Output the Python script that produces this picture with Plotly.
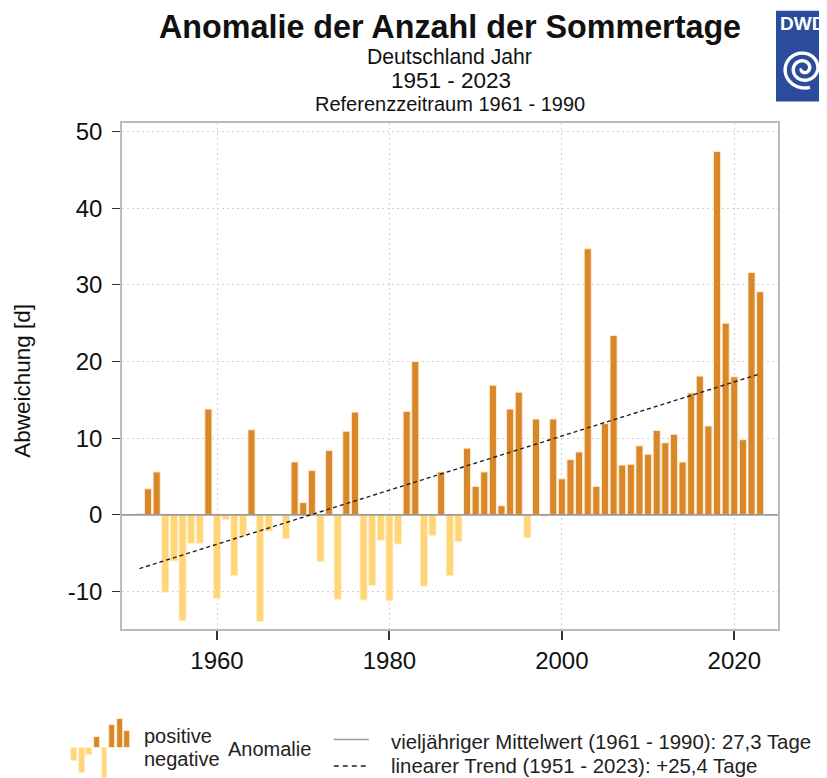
import numpy as np
import plotly.graph_objects as go

# ---------------- data ----------------
years = list(range(1951, 2024))
anomaly = [
    0.2, 3.4, 5.6, -10.1, -6.0, -13.8, -3.7, -3.7, 13.8, -10.9,   # 1951-1960
    -0.6, -7.9, -2.7, 11.1, -13.9, -2.1, 0.0, -3.1, 6.9, 1.6,     # 1961-1970
    5.8, -6.1, 8.4, -11.0, 10.9, 13.4, -11.1, -9.2, -3.3, -11.2,  # 1971-1980
    -3.8, 13.5, 20.0, -9.3, -2.7, 5.6, -7.9, -3.5, 8.7, 3.7,      # 1981-1990
    5.6, 16.9, 1.2, 13.8, 16.0, -3.0, 12.5, -0.2, 12.5, 4.7,      # 1991-2000
    7.2, 8.2, 34.7, 3.7, 11.9, 23.4, 6.5, 6.6, 9.0, 7.9,          # 2001-2010
    11.0, 9.4, 10.5, 6.9, 15.9, 18.1, 11.6, 47.4, 25.0, 18.0,     # 2011-2020
    9.8, 31.6, 29.1,                                              # 2021-2023
]
trend_years = [1951, 2023]
trend_values = [-7.0, 18.4]
x_range = [1948.98, 2025.07]
y_range = [-14.88, 51.1]
mean_values = [0, 0]

x_ticks = [1960, 1980, 2000, 2020]
y_ticks = [-10, 0, 10, 20, 30, 40, 50]
y_tick_labels = ["-10", "0", "10", "20", "30", "40", "50"]

title = "Anomalie der Anzahl der Sommertage"
sub1 = "Deutschland Jahr"
sub2 = "1951 - 2023"
sub3 = "Referenzzeitraum 1961 - 1990"
y_title = "Abweichung [d]"
leg_pos = "positive"
leg_neg = "negative"
leg_anom = "Anomalie"
leg_mean = "vieljähriger Mittelwert (1961 - 1990): 27,3 Tage"
leg_trend = "linearer Trend (1951 - 2023): +25,4 Tage"

POS = "#d8872a"
NEG = "#ffd675"
EDGE = "rgba(255,236,205,0.95)"
FONT = "Liberation Sans, Arial, sans-serif"

# ---------------- layout geometry ----------------
# the page body has an 8px margin, so figure pixels = window pixels - 8
OFF = 8
W, H = 827 - OFF, 778 - OFF
PL, PR, PT, PB = 122.3, 778.0, 122.5, 629.3   # plot area in window pixels
L, T = PL - OFF, PT - OFF
R, B = W - (PR - OFF), H - (PB - OFF)
PW, PH = PR - PL, PB - PT


def px(x):
    return (x - PL) / PW


def py(y):
    return (PB - y) / PH


fig = go.Figure()

colors = [POS if v >= 0 else NEG for v in anomaly]
fig.add_trace(go.Bar(
    x=years, y=anomaly, marker=dict(color=colors, line=dict(color=EDGE, width=1)),
    width=0.82, showlegend=False, hoverinfo="x+y"))

fig.add_trace(go.Scatter(x=x_range, y=mean_values, mode="lines",
                         line=dict(color="#9a9a9a", width=1.6), showlegend=False))
fig.add_trace(go.Scatter(x=trend_years, y=trend_values, mode="lines",
                         line=dict(color="#222222", width=1.4, dash="4px,3px"), showlegend=False))

shapes = []
annotations = []


def ann(text, x, y, size, bold=False, xanchor="center", color="#111", angle=0, pad=1):
    annotations.append(dict(
        text=f"<b>{text}</b>" if bold else text, x=px(x), y=py(y), xref="paper", yref="paper",
        xanchor=xanchor, yanchor="middle", showarrow=False, textangle=angle, borderpad=pad,
        font=dict(family=FONT, size=size, color=color)))


ann(title, 450, 26, 32.3, bold=True, pad=0)
ann(sub1, 450, 55.6, 21.2, pad=0)
ann(sub2, 451, 79.8, 22.5, pad=0)
ann(sub3, 450, 103.6, 20, pad=0)
ann(y_title, 22, 381, 22.5, angle=-90)

# legend
legend_bars = [  # (x0, x1, y0, y1, color) in window pixels
    (71, 77, 748, 761, NEG), (79, 85, 748, 773, NEG), (86, 92, 748, 755, NEG),
    (94, 100, 737, 748, POS), (102, 107, 748, 778, NEG), (109, 115, 725, 748, POS),
    (117, 123, 719, 748, POS), (124, 130, 731, 748, POS),
]
for x0, x1, y0, y1, c in legend_bars:
    shapes.append(dict(type="rect", xref="paper", yref="paper", x0=px(x0), x1=px(x1), y0=py(y0), y1=py(y1),
                       fillcolor=c, line=dict(color=EDGE, width=1)))
ann(leg_pos, 142, 736, 20, xanchor="left", color="#222")
ann(leg_neg, 142, 760, 20, xanchor="left", color="#222")
ann(leg_anom, 226, 749, 20, xanchor="left", color="#222")
shapes.append(dict(type="line", xref="paper", yref="paper", x0=px(334), x1=px(369), y0=py(740), y1=py(740),
                   line=dict(color="#9a9a9a", width=1.6)))
shapes.append(dict(type="line", xref="paper", yref="paper", x0=px(334), x1=px(368), y0=py(766.5), y1=py(766.5),
                   line=dict(color="#222", width=1.4, dash="5px,4px")))
ann(leg_mean, 389, 742, 20.4, xanchor="left", color="#222")
ann(leg_trend, 389, 767, 20.4, xanchor="left", color="#222")

# DWD logo
shapes.append(dict(type="rect", xref="paper", yref="paper", x0=px(776), x1=px(830), y0=py(10), y1=py(101),
                   fillcolor="#2b4c9c", line=dict(width=0)))
annotations.append(dict(text="<b>DWD</b>", x=px(802.5), y=py(23), xref="paper", yref="paper",
                        xanchor="center", yanchor="middle", showarrow=False,
                        font=dict(family=FONT, size=19, color="white")))
th = np.linspace(0.0, 4.6 * np.pi, 220)
rr = 2.0 + 1.3 * th
cx, cy = 803.5, 68.0
sx = cx + rr * np.cos(th + np.pi)
sy = cy - rr * np.sin(th + np.pi) * 0.95
path = "M " + " L ".join(f"{px(a):.5f},{py(b):.5f}" for a, b in zip(sx, sy))
shapes.append(dict(type="path", xref="paper", yref="paper", path=path,
                   line=dict(color="white", width=3.4)))

fig.update_layout(
    width=W, height=H, margin=dict(l=L, r=R, t=T, b=B, pad=0, autoexpand=False),
    paper_bgcolor="white", plot_bgcolor="white",
    shapes=shapes, annotations=annotations, showlegend=False,
    font=dict(family=FONT, color="#111"),
)
fig.update_xaxes(range=x_range, tickvals=x_ticks, ticks="outside", ticklen=9, tickwidth=1.5,
                 tickcolor="#333", tickfont=dict(size=24, family=FONT, color="#111"),
                 showline=True, linecolor="#bbbbbb", linewidth=1.5, mirror=True,
                 showgrid=True, gridcolor="#d2d2d2", griddash="2px,3px", gridwidth=1, zeroline=False)
fig.update_yaxes(range=y_range, tickvals=y_ticks, ticktext=y_tick_labels, ticks="outside", ticklen=8,
                 tickwidth=1.2, tickcolor="#333", tickfont=dict(size=24, family=FONT, color="#111"),
                 ticklabelstandoff=5,
                 showline=True, linecolor="#bbbbbb", linewidth=1.5, mirror=True,
                 showgrid=True, gridcolor="#d2d2d2", griddash="2px,3px", gridwidth=1, zeroline=False)

fig.write_html("out.html")
